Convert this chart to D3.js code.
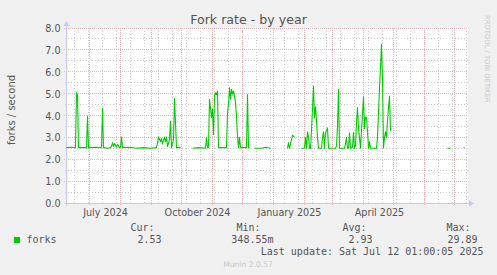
<!DOCTYPE html>
<html><head><meta charset="utf-8">
<script src="https://cdn.jsdelivr.net/npm/d3@7"></script>
<style>
html,body{margin:0;padding:0;background:#f0f0f0;}
svg{display:block;}
</style></head><body>
<svg id="c" width="497" height="275"></svg>
<script>
// ---- data (daily averages; null = no data) ----
const dates = [
"2024-06-08","2024-06-12","2024-06-16","2024-06-17","2024-06-18","2024-06-19","2024-06-20","2024-06-24",
"2024-06-28","2024-06-29","2024-06-30","2024-07-06","2024-07-12","2024-07-13","2024-07-14","2024-07-15",
"2024-07-19","2024-07-22","2024-07-23","2024-07-24","2024-07-25","2024-07-26","2024-07-28","2024-07-29",
"2024-07-31","2024-08-01","2024-08-02","2024-08-03","2024-08-10","2024-08-17","2024-08-24","2024-08-31",
"2024-09-06","2024-09-07","2024-09-08","2024-09-10","2024-09-11","2024-09-12","2024-09-14","2024-09-15",
"2024-09-16","2024-09-17","2024-09-19","2024-09-20","2024-09-21","2024-09-23","2024-09-24","2024-09-26",
"2024-09-30","2024-10-01",
"2024-10-12","2024-10-19","2024-10-25","2024-10-26","2024-10-27","2024-10-28","2024-10-29","2024-10-31",
"2024-11-01","2024-11-02","2024-11-03","2024-11-04","2024-11-05","2024-11-06","2024-11-07","2024-11-15",
"2024-11-16","2024-11-17","2024-11-18","2024-11-19","2024-11-20","2024-11-21","2024-11-22","2024-11-23",
"2024-11-24","2024-11-25","2024-11-26","2024-11-27","2024-11-28","2024-11-29","2024-12-05","2024-12-06",
"2024-12-07","2024-12-08","2024-12-09",
"2024-12-13","2024-12-20","2024-12-24","2024-12-29","2024-12-30",
"2025-01-15","2025-01-16","2025-01-17","2025-01-19","2025-01-20","2025-01-22","2025-01-23",
"2025-01-29","2025-02-01","2025-02-02","2025-02-03","2025-02-04","2025-02-05","2025-02-06","2025-02-07",
"2025-02-08","2025-02-10","2025-02-11","2025-02-12","2025-02-13","2025-02-14","2025-02-15","2025-02-18",
"2025-02-19","2025-02-20","2025-02-21","2025-02-22","2025-02-24","2025-02-25","2025-03-04","2025-03-05",
"2025-03-06","2025-03-07","2025-03-08","2025-03-13","2025-03-14","2025-03-15","2025-03-16","2025-03-17",
"2025-03-18","2025-03-19","2025-03-21","2025-03-22","2025-03-23","2025-03-24","2025-03-25","2025-03-26",
"2025-03-27","2025-03-28","2025-03-29","2025-03-30","2025-04-01","2025-04-02","2025-04-03","2025-04-04",
"2025-04-05","2025-04-06","2025-04-07","2025-04-08","2025-04-14","2025-04-15","2025-04-17","2025-04-18",
"2025-04-19","2025-04-20","2025-04-21","2025-04-22","2025-04-23","2025-04-24","2025-04-25","2025-04-27",
"2025-04-28","2025-04-29",
"2025-06-24","2025-06-27","2025-06-28",
"2025-07-10","2025-07-11"
];
const forks = [
2.53,2.55,2.53,2.53,5.05,4.9,2.53,2.53,
2.53,3.97,2.53,2.55,2.53,2.55,4.32,2.53,
2.5,2.53,2.6,2.75,2.58,2.72,2.55,2.68,
2.53,2.55,3.02,2.53,2.55,2.5,2.53,2.5,
2.53,2.75,3.02,2.8,2.95,2.7,3.02,2.8,
3.02,2.58,2.9,3.74,2.53,2.9,4.78,2.53,
2.53,null,
2.5,2.53,2.5,3.0,2.53,2.55,4.74,3.9,
4.3,3.13,4.89,5.04,4.95,5.12,2.53,2.53,
4.12,4.5,5.27,4.74,5.2,4.97,5.12,4.9,
4.6,3.97,3.05,2.53,3.0,2.53,2.53,4.96,
2.53,2.53,null,
2.5,2.5,2.55,2.5,null,
2.5,2.75,2.5,2.9,3.1,3.0,null,
2.5,2.5,3.0,2.5,3.25,3.0,2.5,2.5,
3.3,5.35,3.9,4.4,3.75,3.0,2.5,2.5,
3.0,3.25,2.5,3.2,3.43,2.5,2.5,2.6,
3.5,5.2,2.5,2.5,2.7,3.0,2.5,2.5,
3.2,2.5,2.55,3.23,2.5,2.6,3.66,4.35,
3.4,3.0,2.5,3.3,4.86,3.4,3.93,3.9,
3.3,2.5,2.8,2.5,2.5,3.0,5.27,6.2,
7.26,5.6,2.53,3.0,3.25,3.0,3.75,4.89,
3.3,null,
2.5,2.5,null,
2.53,2.53
];
const yTicks = [0,1,2,3,4,5,6,7,8];
const yMinorTicks = [0.5,1.5,2.5,3.5,4.5,5.5,6.5,7.5];
const xLabels = ["July 2024","October 2024","January 2025","April 2025"];
const xLabelDates = ["2024-07-16T12:00:00Z","2024-10-16T12:00:00Z","2025-01-16T12:00:00Z","2025-04-16T12:00:00Z"];
const timeDomain = ["2024-06-08T12:00:00Z","2025-07-13T12:00:00Z"];
const firstMinorGrid = "2024-06-16T00:00:00Z";
const legendStats = [["Cur:","2.53"],["Min:","348.55m"],["Avg:","2.93"],["Max:","29.89"]];

// ---- drawing ----
const svg = d3.select("#c");
const W = 497, H = 275;
const L = 67, R = 467, T = 28, B = 203;
const parse = d3.utcParse("%Y-%m-%d");
const x = d3.scaleUtc().domain(timeDomain.map(d=>new Date(d))).range([L, R]);
const y = d3.scaleLinear().domain([0, 8]).range([B, T]);
const snap = v => Math.floor(v) + 0.5;

svg.append("rect").attr("width", W).attr("height", H).attr("fill", "#f0f0f0");
svg.append("rect").attr("x", L).attr("y", T).attr("width", R - L + 1).attr("height", B - T).attr("fill", "#ffffff");

const grid = svg.append("g");
const minorCol = "#cccccc", majorCol = "#eeb4b4";
const d0 = new Date(firstMinorGrid);
const minorDates = d3.range(0, 40).map(k => d3.utcDay.offset(d0, 14 * k)).filter(d => x(d) > L && x(d) < R);
grid.selectAll(".vmin").data(minorDates).join("line")
  .attr("x1", d => snap(x(d))).attr("x2", d => snap(x(d)))
  .attr("y1", T).attr("y2", B + 2)
  .attr("stroke", minorCol).attr("stroke-dasharray", "1,2");
grid.selectAll(".hmin").data(yMinorTicks).join("line")
  .attr("x1", L - 2).attr("x2", R + 1)
  .attr("y1", d => snap(y(d))).attr("y2", d => snap(y(d)))
  .attr("stroke", minorCol).attr("stroke-dasharray", "1,2");
const months = d3.utcMonth.range(x.domain()[0], x.domain()[1]);
grid.selectAll(".vmaj").data(months).join("line")
  .attr("x1", d => snap(x(d))).attr("x2", d => snap(x(d)))
  .attr("y1", T).attr("y2", B + 3)
  .attr("stroke", majorCol).attr("stroke-dasharray", "1,1");
grid.selectAll(".hmaj").data(yTicks).join("line")
  .attr("x1", L - 3).attr("x2", R + 1)
  .attr("y1", d => snap(y(d))).attr("y2", d => snap(y(d)))
  .attr("stroke", majorCol).attr("stroke-dasharray", "1,1");

// axes lines + arrows
const axisCol = "#c4c8ff";
svg.append("line").attr("x1", L - 0.5).attr("x2", L - 0.5).attr("y1", B + 3).attr("y2", T - 4)
  .attr("stroke", axisCol);
svg.append("path").attr("d", `M${L-3.5},${T-2} L${L-0.5},${T-7} L${L+2.5},${T-2} Z`).attr("fill", axisCol);
svg.append("line").attr("x1", L - 3).attr("x2", R + 4).attr("y1", B + 0.5).attr("y2", B + 0.5)
  .attr("stroke", axisCol);
svg.append("path").attr("d", `M${R+2},${B-2.5} L${R+7},${B+0.5} L${R+2},${B+3.5} Z`).attr("fill", axisCol);

// y axis labels
const font = "DejaVu Sans, sans-serif";
const ya = svg.append("g").attr("transform", `translate(${L - 0.5},0.5)`)
  .call(d3.axisLeft(y).tickValues(yTicks).tickFormat(d3.format(".1f")).tickSize(0).tickPadding(6));
ya.select(".domain").remove();
ya.selectAll("text").attr("font-family", font).attr("font-size", "9.6px").attr("fill", "#555");

// x axis labels
const xa = svg.append("g").attr("transform", `translate(0,${B})`)
  .call(d3.axisBottom(x).tickValues(xLabelDates.map(d => new Date(d)))
    .tickFormat((d, i) => xLabels[i]).tickSize(0).tickPadding(5.8));
xa.select(".domain").remove();
xa.selectAll("text").attr("font-family", font).attr("font-size", "9.6px").attr("fill", "#555");

// data line
const pts = dates.map((d, i) => ({ t: parse(d), v: forks[i] }));
svg.append("path").datum(pts)
  .attr("fill", "none").attr("stroke", "#00cc00").attr("stroke-width", 1.1)
  .attr("stroke-linejoin", "round")
  .attr("d", d3.line().defined(d => d.v != null).x(d => x(d.t)).y(d => y(d.v)));

// title
svg.append("text").attr("x", 248.5).attr("y", 24).attr("text-anchor", "middle")
  .attr("font-family", font).attr("font-size", "12.6px").attr("fill", "#555").text("Fork rate - by year");
// y label
svg.append("text").attr("transform", "translate(15,110) rotate(-90)").attr("text-anchor", "middle")
  .attr("font-family", font).attr("font-size", "10px").attr("fill", "#555").text("forks / second");
// rrdtool vertical text
svg.append("text").attr("transform", "translate(485,15) rotate(90)").attr("text-anchor", "start")
  .attr("font-family", font).attr("font-size", "6.8px").attr("fill", "#c8c8c8").text("RRDTOOL / TOBI OETIKER");

// legend
const mono = "DejaVu Sans Mono, monospace";
const hdrX = [154.5, 260.5, 366.5, 470.5];
const valX = [161.5, 273.5, 372.5, 477.5];
const leg = svg.append("g").attr("font-family", mono).attr("font-size", "10px").attr("fill", "#555");
leg.selectAll(".h").data(legendStats).join("text")
  .attr("x", (d, i) => hdrX[i]).attr("y", 231).attr("text-anchor", "end").text(d => d[0]);
leg.selectAll(".v").data(legendStats).join("text")
  .attr("x", (d, i) => valX[i]).attr("y", 243).attr("text-anchor", "end").text(d => d[1]);
svg.append("rect").attr("x", 14).attr("y", 237).attr("width", 6).attr("height", 6).attr("fill", "#00cc00");
leg.append("text").attr("x", 26.5).attr("y", 243).text("forks");
leg.append("text").attr("x", 483.5).attr("y", 255).attr("text-anchor", "end")
  .text("Last update: Sat Jul 12 01:00:05 2025");
svg.append("text").attr("x", 248).attr("y", 266.5).attr("text-anchor", "middle")
  .attr("font-family", font).attr("font-size", "7.6px").attr("fill", "#c8c8c8").text("Munin 2.0.57");
</script>
</body></html>
